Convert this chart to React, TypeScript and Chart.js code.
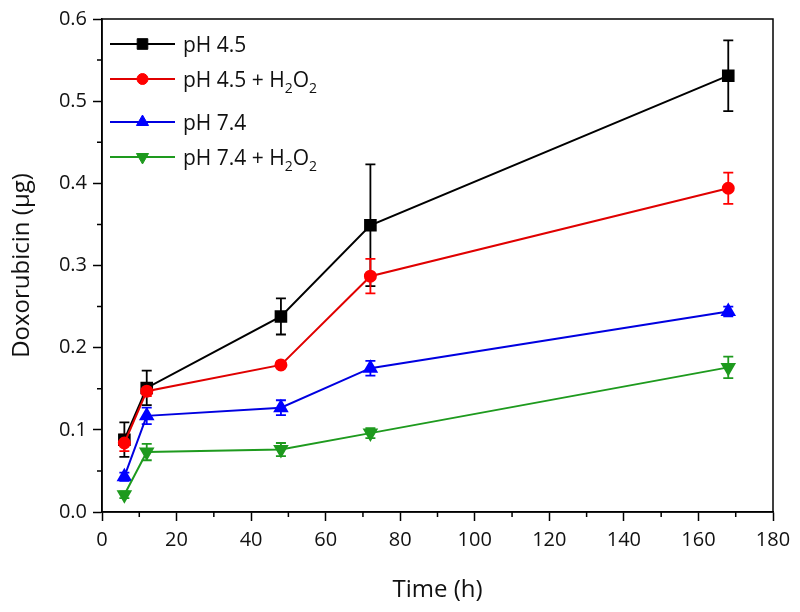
import React, { useEffect, useRef } from 'react';
import { Chart, registerables } from 'chart.js';
Chart.register(...registerables);

const times = [6, 12, 48, 72, 168];
const seriesLabels = ['pH 4.5', 'pH 4.5 + H₂O₂', 'pH 7.4', 'pH 7.4 + H₂O₂'];
const ph45 = [0.088, 0.151, 0.238, 0.349, 0.531];
const ph45Err = [0.021, 0.021, 0.022, 0.074, 0.043];
const ph45H2O2 = [0.084, 0.147, 0.179, 0.287, 0.394];
const ph45H2O2Err = [0.010, 0.006, 0.004, 0.021, 0.019];
const ph74 = [0.043, 0.117, 0.127, 0.175, 0.244];
const ph74Err = [0.005, 0.010, 0.009, 0.009, 0.006];
const ph74H2O2 = [0.021, 0.073, 0.076, 0.096, 0.176];
const ph74H2O2Err = [0.004, 0.010, 0.008, 0.006, 0.013];
const xTickValues = [0, 20, 40, 60, 80, 100, 120, 140, 160, 180];
const yTickValues = [0, 0.1, 0.2, 0.3, 0.4, 0.5, 0.6];
const xMinorTicks = [10, 30, 50, 70, 90, 110, 130, 150, 170];
const yMinorTicks = [0.05, 0.15, 0.25, 0.35, 0.45, 0.55];

const colors = ['#000000', '#ff0000', '#0000ff', '#1e9a1e'];
const lineColors = ['#000000', '#e00000', '#0000e0', '#1e9a1e'];
const pointStyles = ['rect', 'circle', 'triangle', 'triangle'];
const pointRotations = [0, 0, 0, 180];
const pointRadii = [7.5, 5.5, 7, 7];
const values = [ph45, ph45H2O2, ph74, ph74H2O2];
const errors = [ph45Err, ph45H2O2Err, ph74Err, ph74H2O2Err];

const FONT = '"Open Sans", "DejaVu Sans", sans-serif';
const TEXT = '#111111';

function drawMarker(ctx: any, style: string, r: number, rot: number, x: number, y: number) {
  ctx.beginPath();
  if (style === 'rect') {
    const s = Math.SQRT1_2 * r;
    ctx.rect(x - s, y - s, 2 * s, 2 * s);
  } else if (style === 'circle') {
    ctx.arc(x, y, r, 0, Math.PI * 2);
  } else {
    let rad = (rot * Math.PI) / 180;
    for (let k = 0; k < 3; k++) {
      const px = x + Math.sin(rad) * r;
      const py = y - Math.cos(rad) * r;
      if (k === 0) ctx.moveTo(px, py); else ctx.lineTo(px, py);
      rad += (2 * Math.PI) / 3;
    }
    ctx.closePath();
  }
  ctx.fill();
  ctx.stroke();
}

const errorBarPlugin = {
  id: 'errorBars',
  beforeDatasetsDraw(chart: any) {
    const ctx = chart.ctx;
    const yScale = chart.scales.y;
    ctx.save();
    chart.data.datasets.forEach((ds: any, i: number) => {
      const meta = chart.getDatasetMeta(i);
      const errs = errors[i];
      ctx.strokeStyle = colors[i];
      ctx.lineWidth = 1.8;
      meta.data.forEach((pt: any, j: number) => {
        const v = values[i][j];
        const e = errs[j];
        const yT = yScale.getPixelForValue(v + e);
        const yB = yScale.getPixelForValue(v - e);
        const x = pt.x;
        const cap = 5;
        ctx.beginPath();
        ctx.moveTo(x, yT);
        ctx.lineTo(x, yB);
        ctx.moveTo(x - cap, yT);
        ctx.lineTo(x + cap, yT);
        ctx.moveTo(x - cap, yB);
        ctx.lineTo(x + cap, yB);
        ctx.stroke();
      });
    });
    ctx.restore();
  },
};

const framePlugin = {
  id: 'frame',
  afterDraw(chart: any) {
    const { ctx, chartArea } = chart;
    const xs = chart.scales.x;
    const ys = chart.scales.y;
    ctx.save();
    ctx.strokeStyle = '#000';
    ctx.lineWidth = 1.5;
    ctx.strokeRect(chartArea.left, chartArea.top, chartArea.right - chartArea.left, chartArea.bottom - chartArea.top);
    ctx.beginPath();
    xMinorTicks.forEach((v) => {
      const x = xs.getPixelForValue(v);
      ctx.moveTo(x, chartArea.bottom);
      ctx.lineTo(x, chartArea.bottom + 5);
    });
    yMinorTicks.forEach((v) => {
      const y = ys.getPixelForValue(v);
      ctx.moveTo(chartArea.left, y);
      ctx.lineTo(chartArea.left - 5, y);
    });
    ctx.stroke();
    ctx.restore();
  },
};

function drawRichText(ctx: any, text: string, x: number, y: number, size: number) {
  let cx = x;
  let buf = '';
  const flush = () => {
    if (!buf) return;
    ctx.font = `${size}px ${FONT}`;
    ctx.fillText(buf, cx, y);
    cx += ctx.measureText(buf).width;
    buf = '';
  };
  for (const ch of text) {
    if (ch === '₂') {
      flush();
      ctx.font = `${Math.round(size * 0.65)}px ${FONT}`;
      ctx.fillText('2', cx, y + size * 0.33);
      cx += ctx.measureText('2').width;
    } else {
      buf += ch;
    }
  }
  flush();
}

const legendPlugin = {
  id: 'customLegend',
  afterDraw(chart: any) {
    const { ctx, chartArea } = chart;
    ctx.save();
    let y = chartArea.top + 25;
    chart.data.datasets.forEach((ds: any, i: number) => {
      if (i > 0) {
        y += 35 + (seriesLabels[i - 1].includes('₂') ? 8 : 0);
      }
      const x0 = chartArea.left + 8;
      const x1 = chartArea.left + 73;
      ctx.strokeStyle = lineColors[i];
      ctx.lineWidth = 2;
      ctx.beginPath();
      ctx.moveTo(x0, y);
      ctx.lineTo(x1, y);
      ctx.stroke();
      ctx.fillStyle = colors[i];
      ctx.strokeStyle = colors[i];
      ctx.lineWidth = 1;
      drawMarker(ctx, pointStyles[i], pointRadii[i], pointRotations[i], (x0 + x1) / 2, y);
      ctx.fillStyle = TEXT;
      ctx.textBaseline = 'alphabetic';
      ctx.textAlign = 'left';
      drawRichText(ctx, seriesLabels[i], chartArea.left + 81, y + 7.5, 21);
    });
    ctx.restore();
  },
};

export default function App() {
  const ref = useRef<HTMLCanvasElement>(null);
  useEffect(() => {
    document.body.style.margin = '0';
    const datasets = values.map((vals, i) => ({
      label: seriesLabels[i],
      data: times.map((t, j) => ({ x: t, y: vals[j] })),
      borderColor: lineColors[i],
      backgroundColor: colors[i],
      pointBackgroundColor: colors[i],
      pointBorderColor: colors[i],
      pointStyle: pointStyles[i],
      pointRotation: pointRotations[i],
      pointRadius: pointRadii[i],
      borderWidth: 2,
      tension: 0,
      order: 3 - i,
    }));
    const chart = new Chart(ref.current!, {
      type: 'line',
      data: { datasets },
      options: {
        animation: false,
        responsive: false,
        maintainAspectRatio: false,
        layout: { padding: { top: 19, right: 27, left: 0, bottom: 0 } },
        plugins: { legend: { display: false }, tooltip: { enabled: false } },
        scales: {
          x: {
            type: 'linear',
            min: 0,
            max: 180,
            afterBuildTicks: (s: any) => { s.ticks = xTickValues.map((v) => ({ value: v })); },
            afterFit: (s: any) => { s.height = 100; },
            ticks: { font: { family: FONT, size: 20 }, color: TEXT, padding: 7, maxRotation: 0, autoSkip: false },
            grid: { drawOnChartArea: false, drawTicks: true, tickLength: 9, tickColor: '#000', tickWidth: 1.5 },
            border: { color: '#000', width: 1.5 },
            title: { display: true, text: 'Time (h)', font: { family: FONT, size: 24 }, color: TEXT, padding: { top: 0, bottom: 7 } },
          },
          y: {
            type: 'linear',
            min: 0,
            max: 0.6,
            afterBuildTicks: (s: any) => { s.ticks = yTickValues.map((v) => ({ value: v })); },
            afterFit: (s: any) => { s.width = 102; },
            ticks: { font: { family: FONT, size: 20 }, color: TEXT, padding: 6, callback: (v: any) => Number(v).toFixed(1) },
            grid: { drawOnChartArea: false, drawTicks: true, tickLength: 9, tickColor: '#000', tickWidth: 1.5 },
            border: { color: '#000', width: 1.5 },
            title: { display: true, text: 'Doxorubicin (μg)', font: { family: FONT, size: 24 }, color: TEXT, padding: { top: 8, bottom: 0 } },
          },
        },
      },
      plugins: [errorBarPlugin, framePlugin, legendPlugin],
    } as any);
    return () => chart.destroy();
  }, []);
  return (
    <div style={{ position: 'relative', width: 800, height: 612, background: '#fff' }}>
      <canvas ref={ref} width={800} height={612} style={{ display: 'block' }} />
    </div>
  );
}
